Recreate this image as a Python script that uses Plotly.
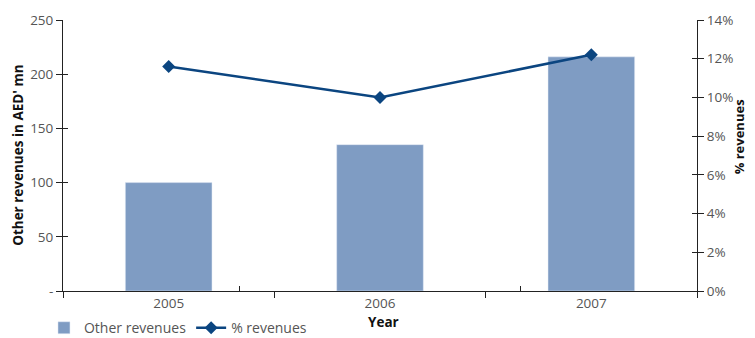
import plotly.graph_objects as go

years = ["2005", "2006", "2007"]
other_revenues = [100, 135, 216]
pct_revenues = [11.6, 10.0, 12.2]

left_ticks = [0, 50, 100, 150, 200, 250]
left_labels = ["-", "50", "100", "150", "200", "250"]
right_ticks = [0, 2, 4, 6, 8, 10, 12, 14]
right_labels = [f"{v}%" for v in right_ticks]

font_family = "Open Sans, Noto Sans, sans-serif"
gray = "#555555"
axis_col = "#222222"
tick_font = dict(size=13.5, color=gray)

fig = go.Figure()
fig.add_trace(go.Bar(x=years, y=other_revenues, name="Other revenues",
                     marker=dict(color="#7f9cc3"), width=0.41, yaxis="y"))
fig.add_trace(go.Scatter(x=years, y=pct_revenues, name="% revenues", mode="lines+markers",
                         line=dict(color="#0b4580", width=2.5),
                         marker=dict(symbol="diamond", size=10, color="#0b4580"),
                         yaxis="y2"))
# dummy traces to activate the inside-tick overlay axes (gives crossing ticks)
fig.add_trace(go.Scatter(x=years, y=[None]*3, xaxis="x2", yaxis="y3",
                         showlegend=False, hoverinfo="skip"))
fig.add_trace(go.Scatter(x=years, y=[None]*3, xaxis="x2", yaxis="y4",
                         showlegend=False, hoverinfo="skip"))

# page body has an 8px default margin, so the figure is shrunk/offset by 8px
fig.update_layout(
    width=747, height=330,
    margin=dict(l=55, r=58, t=12, b=47, autoexpand=False),
    plot_bgcolor="white", paper_bgcolor="white",
    font=dict(family=font_family, size=13.5, color=gray),
    xaxis=dict(type="category", tickson="boundaries", ticks="outside", ticklen=6,
               tickcolor=axis_col, showline=True, linecolor=axis_col, linewidth=1,
               showgrid=False, tickfont=tick_font, automargin=False),
    xaxis2=dict(type="category", overlaying="x", side="bottom", tickson="boundaries",
                ticks="inside", ticklen=5, tickcolor=axis_col, showticklabels=False,
                showgrid=False, showline=False, automargin=False,
                categoryarray=years, categoryorder="array"),
    yaxis=dict(range=[0, 250], tickvals=left_ticks, ticktext=left_labels,
               ticks="outside", ticklen=6, tickcolor=axis_col, showline=True,
               linecolor=axis_col, linewidth=1, showgrid=False, zeroline=False,
               tickfont=tick_font, automargin=False),
    yaxis2=dict(range=[0, 14], tickvals=right_ticks, ticktext=right_labels,
                overlaying="y", side="right", ticks="outside", ticklen=6,
                tickcolor=axis_col, showline=True, linecolor=axis_col, linewidth=1,
                showgrid=False, zeroline=False, tickfont=tick_font, automargin=False),
    yaxis3=dict(range=[0, 250], tickvals=left_ticks, overlaying="y", side="left",
                ticks="inside", ticklen=5, tickcolor=axis_col, showticklabels=False,
                showgrid=False, zeroline=False, showline=False, automargin=False),
    yaxis4=dict(range=[0, 14], tickvals=right_ticks, overlaying="y", side="right",
                ticks="inside", ticklen=5, tickcolor=axis_col, showticklabels=False,
                showgrid=False, zeroline=False, showline=False, automargin=False),
    legend=dict(orientation="h", x=-0.03, xanchor="left", y=-0.078, yanchor="top",
                font=dict(size=14, color=gray), bgcolor="rgba(0,0,0,0)",
                itemwidth=30, tracegroupgap=0),
    showlegend=True,
    annotations=[
        dict(text="<b>Other revenues in AED' mn</b>", xref="paper", yref="paper",
             x=-0.072, y=0.5, textangle=-90, showarrow=False,
             font=dict(size=13.5, color="#111"), xanchor="center", yanchor="middle"),
        dict(text="<b>% revenues</b>", xref="paper", yref="paper",
             x=1.066, y=0.57, textangle=-90, showarrow=False,
             font=dict(size=13, color="#111"), xanchor="center", yanchor="middle"),
        dict(text="<b>Year</b>", xref="paper", yref="paper",
             x=0.505, y=-0.115, showarrow=False,
             font=dict(size=13.5, color="#111"), xanchor="center", yanchor="middle"),
    ],
)

fig.write_html("out.html")
